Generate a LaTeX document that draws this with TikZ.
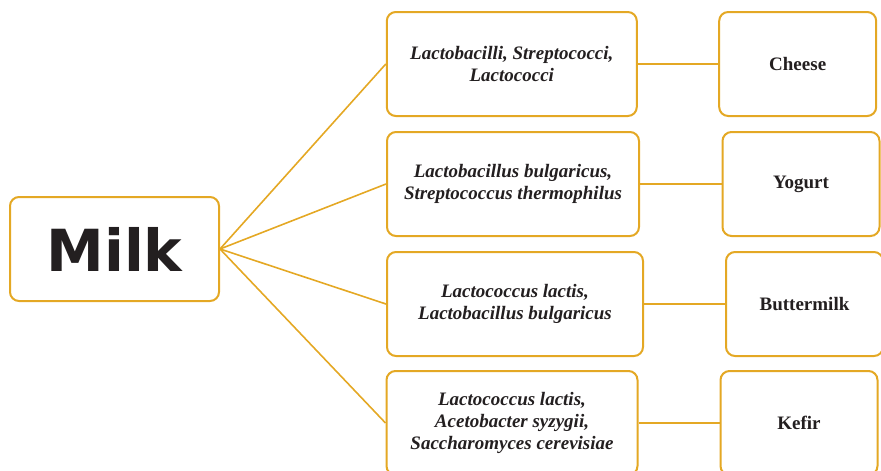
\documentclass[tikz,border=0pt]{standalone}
\usepackage{fontspec}
\setmainfont{Liberation Serif}
\newfontfamily\milkfont{DejaVu Sans}
\definecolor{gold}{RGB}{228,168,36}
\definecolor{ink}{RGB}{35,31,32}
\begin{document}
\begin{tikzpicture}[x=1pt,y=-1pt,
  box/.style={draw=gold,line width=2pt,rounded corners=9pt,fill=white,
    minimum height=104pt,inner sep=0pt,text=ink,align=center},
  microbe/.style={box,font=\fontsize{19}{22}\selectfont\bfseries\itshape},
  product/.style={box,minimum width=157pt,font=\fontsize{19}{22}\selectfont\bfseries},
  link/.style={draw=gold,line width=1.6pt}]
\useasboundingbox (0,0) rectangle (881,471);
\clip (0,0) rectangle (881,471);
% source
\node[box,minimum width=209pt,font=\milkfont\fontsize{58}{60}\selectfont\bfseries]
  (milk) at (114.5,249) {Milk};
% cultures
\node[microbe,minimum width=250pt] (c1) at (511.8,64)
  {Lactobacilli, Streptococci,\\Lactococci};
\node[microbe,minimum width=252pt] (c2) at (513,184)
  {Lactobacillus bulgaricus,\\Streptococcus thermophilus};
\node[microbe,minimum width=256pt] (c3) at (515,304)
  {Lactococcus lactis,\\Lactobacillus bulgaricus};
\node[microbe,minimum width=251pt] (c4) at (512,423)
  {Lactococcus lactis,\\Acetobacter syzygii,\\Saccharomyces cerevisiae};
% products
\node[product] (p1) at (797.7,64) {Cheese};
\node[product] (p2) at (801,184) {Yogurt};
\node[product] (p3) at (804.5,304) {Buttermilk};
\node[product] (p4) at (799,423) {Kefir};
% connectors
\foreach \i in {1,...,4}{
  \draw[link] (milk.east) -- (c\i.west);
  \draw[link] (c\i.east) -- (p\i.west);
}
\end{tikzpicture}
\end{document}
